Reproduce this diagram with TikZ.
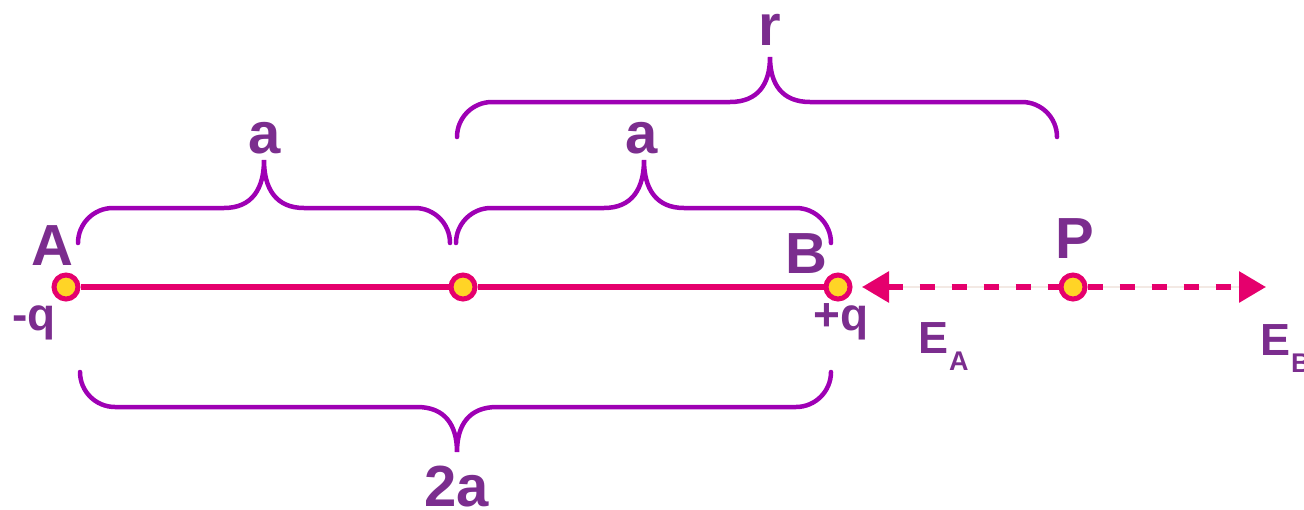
\documentclass[tikz,border=0pt]{standalone}
\usepackage{fontspec}
\setmainfont{Liberation Sans}
\usetikzlibrary{arrows.meta}
\definecolor{txtpurple}{RGB}{123,45,142}
\definecolor{bracepurple}{RGB}{158,0,180}
\definecolor{linepink}{RGB}{229,0,109}
\definecolor{dotyellow}{RGB}{255,212,38}
\definecolor{faintline}{RGB}{243,233,228}
\tikzset{
  charge/.style={circle, draw=linepink, fill=dotyellow, line width=5pt, minimum size=24pt, inner sep=0pt},
  brace/.style={draw=bracepurple, line width=4.5pt, line cap=round},
  rod/.style={draw=linepink, line width=6pt},
  efield/.style={draw=linepink, line width=6pt, dash pattern=on 15pt off 17pt},
  lbl/.style={text=txtpurple, font=\bfseries\fontsize{58}{58}\selectfont, inner sep=0pt, anchor=base},
  qlbl/.style={text=txtpurple, font=\bfseries\fontsize{46}{46}\selectfont, inner sep=0pt, anchor=base},
  elbl/.style={text=txtpurple, font=\bfseries\fontsize{45}{45}\selectfont, inner sep=0pt, anchor=base west},
  tip/.style={Triangle[length=27pt,width=30pt]}
}
\newcommand{\mybrace}[6]{%
  \pgfmathsetmacro{\bd}{#3-#4}%
  \pgfmathsetmacro{\bR}{abs(\bd)}%
  \pgfmathsetmacro{\bq}{#6-#3}%
  \draw[brace] (#1,#4) .. controls (#1,{#4+0.552*\bd}) and ({#1+0.448*\bR},#3) .. ({#1+\bR},#3)
    -- ({#5-40},#3) .. controls ({#5-12},#3) and (#5,{#3+0.4*\bq}) .. (#5,#6)
    .. controls (#5,{#3+0.4*\bq}) and ({#5+12},#3) .. ({#5+40},#3)
    -- ({#2-\bR},#3) .. controls ({#2-0.448*\bR},#3) and (#2,{#4+0.552*\bd}) .. (#2,#4);
}
\begin{document}
\begin{tikzpicture}[x=1pt,y=-1pt]
\useasboundingbox (0,0) rectangle (1304,509);
% charges
\node[charge] (A) at (66,287) {};
\node[charge] (M) at (463,287) {};
\node[charge] (B) at (838,287) {};
\node[charge] (P) at (1073,287) {};
\coordinate (EAtip) at (862,287);
\coordinate (EBtip) at (1266,287);
% rod
\draw[rod] (A) -- (M);
\draw[rod] (M) -- (B);
% field line
\draw[faintline, line width=2pt] (EAtip) -- (P);
\draw[faintline, line width=2pt] (P) -- (EBtip);
\draw[efield, {Triangle[length=27pt,width=30pt]}-] (EAtip) -- (P);
\draw[efield, -{Triangle[length=27pt,width=30pt]}] (P) -- (EBtip);
% braces
\mybrace{78}{450}{208}{243}{264}{160}
\mybrace{456}{831}{208}{243}{644}{160}
\mybrace{457}{1057}{102}{137}{770}{57}
\mybrace{80}{831}{407}{372}{457}{452}
% labels
\node[lbl] (lA) at (52,265) {A};
\node[lbl] (lB) at (806,273) {B};
\node[lbl] (lP) at (1075,258) {P};
\node[lbl] (la1) at (265,153) {a};
\node[lbl] (la2) at (642,153) {a};
\node[lbl] (lr) at (770,45) {r};
\node[lbl] (l2a) at (457,506) {2a};
\node[qlbl] (lmq) at (34,330) {-q};
\node[qlbl] (lpq) at (841,330) {+q};
\node[elbl] (lEA) at (918,353) {E\kern1pt\raisebox{-17pt}{\fontsize{27}{27}\selectfont A}};
\node[elbl] (lEB) at (1260,355) {E\kern1pt\raisebox{-17pt}{\fontsize{27}{27}\selectfont B}};
\end{tikzpicture}
\end{document}
